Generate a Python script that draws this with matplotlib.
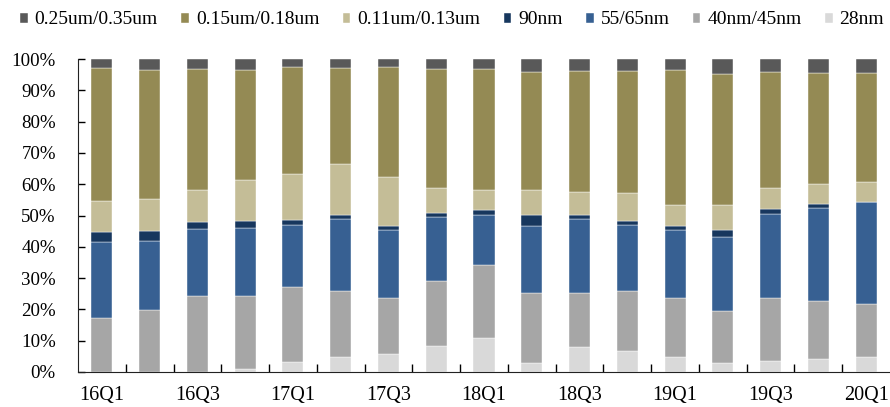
import matplotlib.pyplot as plt
import numpy as np

plt.rcParams['font.family'] = ['Liberation Serif', 'DejaVu Serif']

quarters = ['16Q1', '16Q2', '16Q3', '16Q4', '17Q1', '17Q2', '17Q3', '17Q4',
            '18Q1', '18Q2', '18Q3', '18Q4', '19Q1', '19Q2', '19Q3', '19Q4', '20Q1']

# cumulative tops of each node (percent), bottom to top
top_28 = [0.0, 0.0, 0.0, 1.1, 3.3, 4.9, 5.9, 8.4, 10.9, 3.0, 8.1, 6.8, 4.8, 3.0, 3.5, 4.1, 4.9]
top_40 = [17.1, 19.9, 24.3, 24.4, 27.1, 25.8, 23.5, 29.2, 34.3, 25.1, 25.2, 25.8, 23.7, 19.4, 23.5, 22.7, 21.7]
top_55 = [41.6, 41.7, 45.6, 46.1, 46.9, 48.8, 45.3, 49.5, 50.3, 46.5, 48.9, 47.0, 45.3, 43.2, 50.4, 52.3, 54.3]
top_90 = [44.6, 45.0, 47.9, 48.2, 48.6, 50.3, 46.7, 50.7, 51.9, 50.3, 50.1, 48.3, 46.8, 45.5, 52.1, 53.6, 54.4]
top_011 = [54.5, 55.3, 58.0, 61.4, 63.3, 66.3, 62.4, 58.8, 58.2, 58.0, 57.5, 57.1, 53.5, 53.4, 58.8, 60.2, 60.8]
top_015 = [97.0, 96.4, 96.7, 96.6, 97.3, 97.0, 97.3, 96.8, 96.7, 95.9, 96.2, 96.3, 96.5, 95.2, 95.7, 95.6, 95.5]
top_025 = [100.0] * 17

names = ['28nm', '40nm/45nm', '55/65nm', '90nm', '0.11um/0.13um', '0.15um/0.18um', '0.25um/0.35um']
colors = ['#D9D9D9', '#A6A6A6', '#376092', '#17375E', '#C4BD97', '#948A54', '#595959']
tops = np.array([top_28, top_40, top_55, top_90, top_011, top_015, top_025]) / 100
shares = np.diff(np.vstack([np.zeros(len(quarters)), tops]), axis=0)

fig = plt.figure(figsize=(8.9, 4.07), dpi=100)
ax = fig.add_axes([78 / 890, 35 / 407, 812 / 890, 313 / 407])

x = np.arange(len(quarters))
bottom = np.zeros(len(quarters))
handles = []
for name, color, vals in zip(names, colors, shares):
    b = ax.bar(x, vals, 0.44, bottom=bottom, color=color, label=name,
               edgecolor='white', linewidth=0.3)
    handles.append(b)
    bottom += vals

ax.set_xlim(-0.5, len(quarters) - 0.5)
ax.set_ylim(0, 1)
ax.set_yticks(np.arange(0, 1.01, 0.1))
ax.set_yticklabels([f'{int(round(v * 100))}%' for v in np.arange(0, 1.01, 0.1)], fontsize=13.6)

ax.set_xticks(x[::2])
ax.set_xticklabels(quarters[::2], fontsize=14.5)
ax.tick_params(axis='x', length=0, pad=10)
ax.set_xticks(x[:-1] + 0.5, minor=True)
ax.tick_params(axis='x', which='minor', direction='in', length=6, width=1)
ax.tick_params(axis='y', direction='in', length=5, width=1, pad=16)

for s in ['top', 'right']:
    ax.spines[s].set_visible(False)
ax.spines['left'].set_color('#222222')
ax.spines['bottom'].set_color('#222222')

fig.legend(handles[::-1], names[::-1], loc='center left', bbox_to_anchor=(20 / 890, 1 - 20 / 407),
           ncol=7, frameon=False, fontsize=14, handlelength=0.39, handleheight=0.42,
           handletextpad=0.36, columnspacing=1.2, borderaxespad=0, borderpad=0)

fig.savefig('out.png', dpi=100)
